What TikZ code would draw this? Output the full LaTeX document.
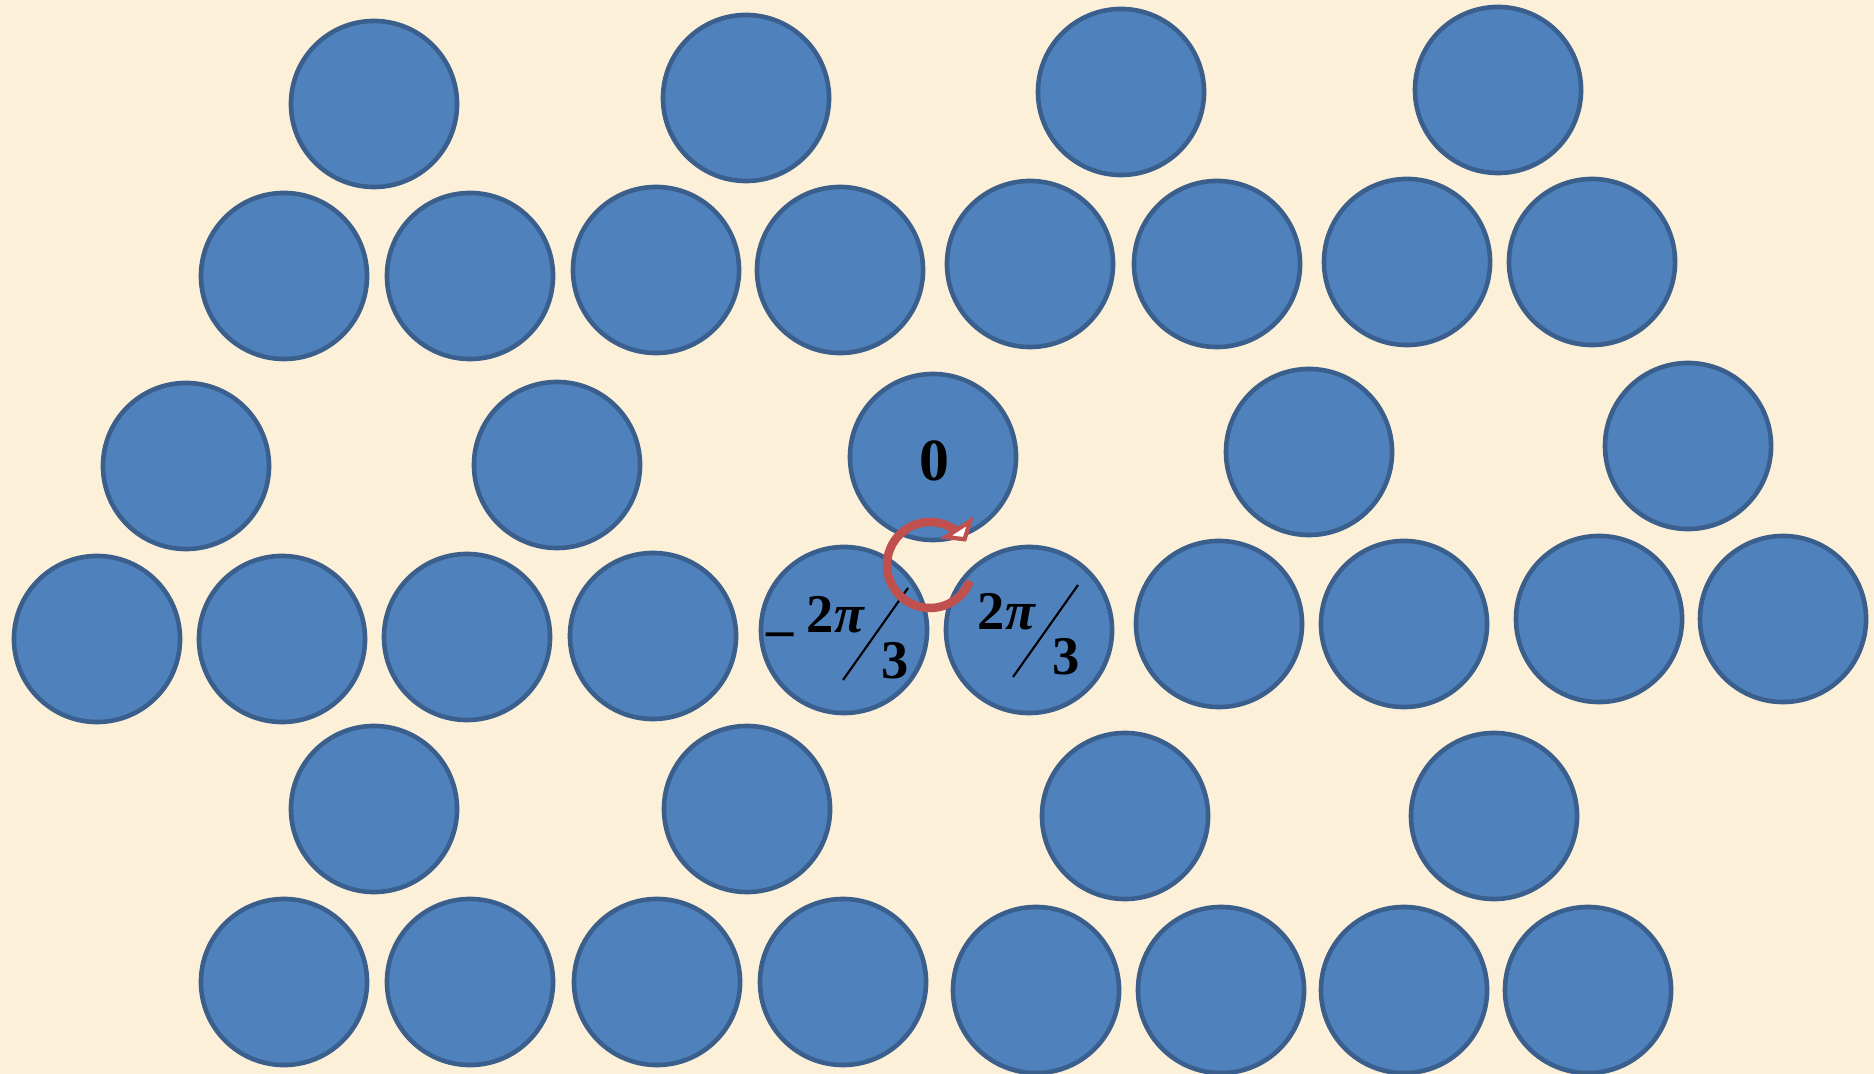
\documentclass[tikz,border=0pt]{standalone}
\usepackage{fontspec}
\setmainfont{Liberation Serif}
\usetikzlibrary{arrows.meta}
\definecolor{parchment}{HTML}{FCF0D8}
\definecolor{ballBlue}{HTML}{4F81BD}
\definecolor{ballEdge}{HTML}{3A5F8C}
\definecolor{turnRed}{HTML}{C0504D}

\begin{document}
\begin{tikzpicture}[x=0.01cm, y=-0.01cm,
    ballPart/.style={circle, draw=ballEdge, fill=ballBlue, line width=1.3pt, minimum size=1.66cm, inner sep=0pt},
    phaseText/.style={inner sep=0pt, anchor=base, font=\fontsize{15.5}{18}\selectfont\bfseries},
    slashStyle/.style={line width=0.6pt, draw=black},
    arrowStyle/.style={-{Triangle[width=0.40cm, length=0.17cm, fill=white]}, line width=0.085cm, draw=turnRed}
]
    \fill[parchment] (0,0) rectangle (1874,1074);
    \useasboundingbox (0,0) rectangle (1874,1074);

    \foreach \px/\py [count=\i] in {374/104, 746/98, 1121/92, 1498/90}
        \node[ballPart] (top\i) at (\px,\py) {};
    \foreach \px/\py [count=\i] in {284/276, 470/276, 656/270, 840/270, 1030/264, 1217/264, 1407/262, 1592/262}
        \node[ballPart] (upper\i) at (\px,\py) {};
    \foreach \px/\py [count=\i] in {186/466, 557/465, 1309/452, 1688/446}
        \node[ballPart] (mid\i) at (\px,\py) {};
    \foreach \px/\py [count=\i] in {97/639, 282/639, 467/637, 653/636, 1219/624, 1404/624, 1599/619, 1783/619}
        \node[ballPart] (lower\i) at (\px,\py) {};
    \foreach \px/\py [count=\i] in {374/809, 747/809, 1125/816, 1494/816}
        \node[ballPart] (low\i) at (\px,\py) {};
    \foreach \px/\py [count=\i] in {284/982, 470/982, 657/982, 843/982, 1036/990, 1221/990, 1404/990, 1588/990}
        \node[ballPart] (bottom\i) at (\px,\py) {};

    \node[ballPart] (zeroBall) at (933,457) {};
    \node[ballPart] (minusBall) at (844,630) {};
    \node[ballPart] (plusBall) at (1029,630) {};

    \node[phaseText, font=\fontsize{17}{19}\selectfont\bfseries] (zeroLbl) at (934,481) {0};

    \node[phaseText] (minusSign) at (780,648) {–};
    \node[phaseText] (minusNum) at (836,633) {2\textit{π}};
    \node[phaseText] (minusDen) at (895,679) {3};
    \coordinate (minusSlashA) at (908,588);
    \coordinate (minusSlashB) at (843,680);
    \draw[slashStyle] (minusSlashA) -- (minusSlashB);

    \node[phaseText] (plusNum) at (1007,630) {2\textit{π}};
    \node[phaseText] (plusDen) at (1066,675) {3};
    \coordinate (plusSlashA) at (1078,585);
    \coordinate (plusSlashB) at (1013,677);
    \draw[slashStyle] (plusSlashA) -- (plusSlashB);

    \coordinate (turnPt) at (930,565);
    \draw[arrowStyle] ([shift={(22:43)}]turnPt) arc[start angle=22, end angle=327, radius=43];
\end{tikzpicture}
\end{document}
